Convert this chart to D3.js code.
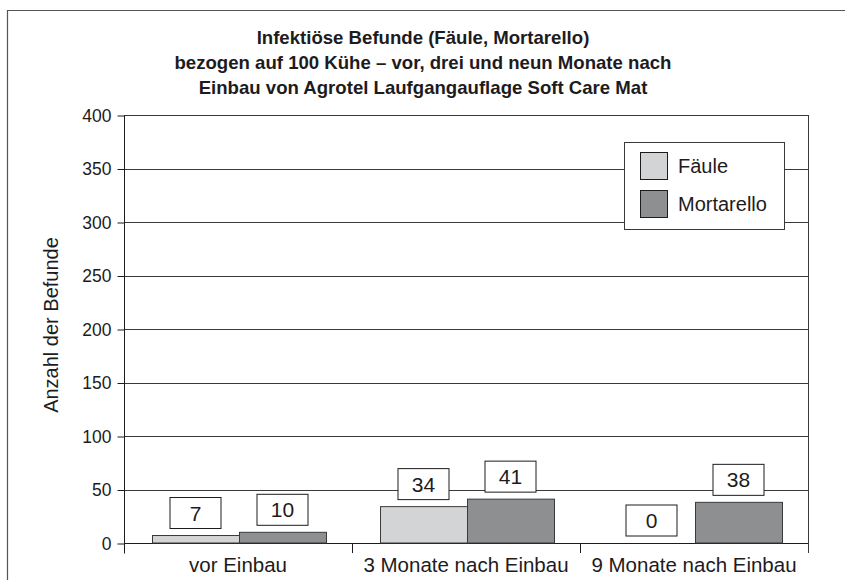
<!DOCTYPE html>
<html>
<head>
<meta charset="utf-8">
<script src="https://cdn.jsdelivr.net/npm/d3@7"></script>
<style>
  html, body { margin: 0; padding: 0; background: #fff; }
  svg { display: block; font-family: "Liberation Sans", Arial, sans-serif; }
</style>
</head>
<body>
<svg id="chart" width="845" height="580"></svg>
<script>
const titleLines = [
  "Infektiöse Befunde (Fäule, Mortarello)",
  "bezogen auf 100 Kühe – vor, drei und neun Monate nach",
  "Einbau von Agrotel Laufgangauflage Soft Care Mat"
];
const categories = ["vor Einbau", "3 Monate nach Einbau", "9 Monate nach Einbau"];
const seriesNames = ["Fäule", "Mortarello"];
const faeule = [7, 34, 0];
const mortarello = [10, 41, 38];
const yTicks = [0, 50, 100, 150, 200, 250, 300, 350, 400];
const yLabel = "Anzahl der Befunde";
const colors = ["#d3d4d6", "#8e8f91"];

const seriesValues = [faeule, mortarello];
const svg = d3.select("#chart");
const ink = "#1e1b1c";

// outer frame
svg.append("path").attr("d", "M7.5,580 V10.5 H845")
  .attr("fill", "none").attr("stroke", "#555").attr("stroke-width", 1.2);

// title
const title = svg.append("text").attr("text-anchor", "middle")
  .attr("font-weight", "bold").attr("font-size", 18.6).attr("fill", ink);
titleLines.forEach((t, i) => {
  title.append("tspan").attr("x", 423).attr("y", 44 + i * 25).text(t);
});

const margin = {left: 124, right: 808, top: 115, bottom: 543};
const y = d3.scaleLinear().domain([0, 400]).range([margin.bottom, margin.top]);
const x0 = d3.scaleBand().domain(categories).range([margin.left, margin.right]).padding(0);
const x1 = d3.scaleBand().domain(seriesNames).range([28, 202]).padding(0);

// gridlines
svg.append("g").selectAll("line").data(yTicks.filter(d => d > 0)).join("line")
  .attr("x1", margin.left).attr("x2", margin.right)
  .attr("y1", d => Math.round(y(d)) + 0.5).attr("y2", d => Math.round(y(d)) + 0.5)
  .attr("stroke", "#3a3a3a").attr("stroke-width", 1);

// right border
svg.append("line").attr("x1", margin.right + 0.5).attr("x2", margin.right + 0.5)
  .attr("y1", margin.top).attr("y2", 553).attr("stroke", "#3a3a3a");

// y axis
const yAxis = d3.axisLeft(y).tickValues(yTicks).tickSize(7).tickPadding(6).tickSizeOuter(0);
const gy = svg.append("g").attr("transform", `translate(${margin.left + 0.5},0.5)`).call(yAxis);
gy.select(".domain").remove();
gy.append("line").attr("x1", 0).attr("x2", 0).attr("y1", margin.top).attr("y2", 553).attr("stroke", ink);
gy.selectAll(".tick line").attr("stroke", ink);
gy.selectAll(".tick text").attr("font-size", 17.5).attr("fill", ink)
  .attr("font-family", "Liberation Sans, Arial, sans-serif");

// x axis
const xAxis = d3.axisBottom(x0).tickSize(0).tickPadding(0);
const gx = svg.append("g").attr("transform", `translate(0,${margin.bottom + 0.5})`).call(xAxis);
gx.select(".domain").attr("stroke", ink).attr("d", `M${margin.left},0H${margin.right}`);
gx.selectAll(".tick text").attr("font-size", 20.5).attr("fill", ink).attr("dy", 0).attr("y", 28)
  .attr("font-family", "Liberation Sans, Arial, sans-serif");
// category separators
svg.append("g").selectAll("line").data(categories.slice(1)).join("line")
  .attr("x1", d => x0(d) + 0.5).attr("x2", d => x0(d) + 0.5)
  .attr("y1", margin.bottom).attr("y2", 553).attr("stroke", ink);

// bars
const groups = svg.append("g").selectAll("g").data(categories).join("g")
  .attr("transform", d => `translate(${x0(d)},0)`);
groups.each(function(cat, ci) {
  const g = d3.select(this);
  seriesNames.forEach((s, si) => {
    const v = seriesValues[si][ci];
    if (v > 0) {
      g.append("rect")
        .attr("x", x1(s) + 0.5).attr("width", x1.bandwidth())
        .attr("y", y(v)).attr("height", y(0) - y(v))
        .attr("fill", colors[si]).attr("stroke", "#3a3a3a").attr("stroke-width", 1);
    }
  });
});

// value label boxes
groups.each(function(cat, ci) {
  const g = d3.select(this);
  seriesNames.forEach((s, si) => {
    const v = seriesValues[si][ci];
    const cx = x1(s) + x1.bandwidth() / 2;
    const bottom = y(v) - 7;
    g.append("rect").attr("x", cx - 25.5).attr("y", bottom - 31)
      .attr("width", 51).attr("height", 31)
      .attr("fill", "#fff").attr("stroke", ink).attr("stroke-width", 1);
    g.append("text").attr("x", cx).attr("y", bottom - 8)
      .attr("text-anchor", "middle").attr("font-size", 21).attr("fill", ink).text(v);
  });
});

// y label
svg.append("text").attr("transform", "translate(58,325) rotate(-90)")
  .attr("text-anchor", "middle").attr("font-size", 20).attr("fill", ink).text(yLabel);

// legend
const lg = svg.append("g").attr("transform", "translate(624,142)");
lg.append("rect").attr("x", 0.5).attr("y", 0.5).attr("width", 160).attr("height", 87)
  .attr("fill", "#fff").attr("stroke", "#3a3a3a");
seriesNames.forEach((s, i) => {
  lg.append("rect").attr("x", 16.5).attr("y", 10.5 + i * 38).attr("width", 27).attr("height", 27)
    .attr("fill", colors[i]).attr("stroke", ink);
  lg.append("text").attr("x", 54).attr("y", 31 + i * 38).attr("font-size", 20).attr("fill", ink).text(s);
});
</script>
</body>
</html>
